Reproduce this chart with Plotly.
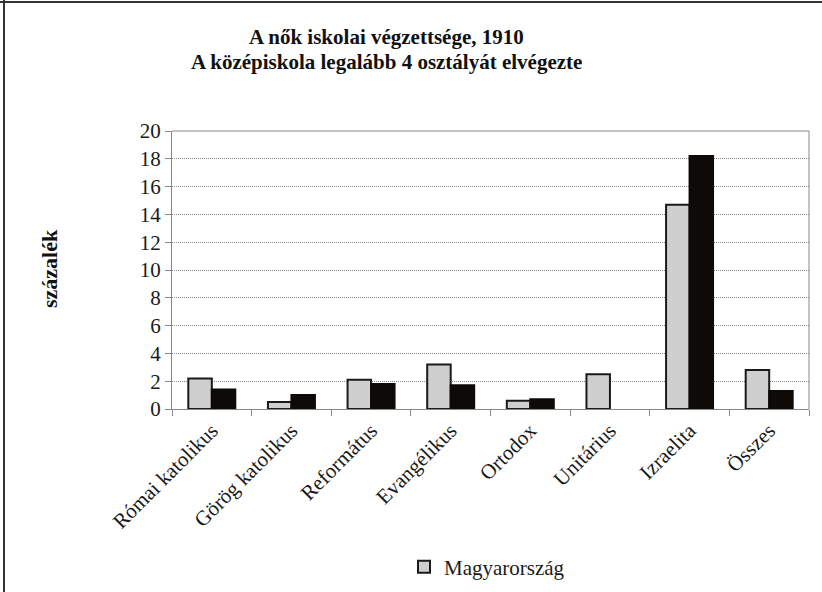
import plotly.graph_objects as go

categories = ["Római katolikus", "Görög katolikus", "Református", "Evangélikus",
              "Ortodox", "Unitárius", "Izraelita", "Összes"]
magyarorszag = [2.2, 0.5, 2.1, 3.2, 0.6, 2.5, 14.7, 2.8]
masik = [1.4, 1.0, 1.8, 1.7, 0.7, None, 18.2, 1.3]
y_ticks = [0, 2, 4, 6, 8, 10, 12, 14, 16, 18, 20]
title_lines = ["A nők iskolai végzettsége, 1910",
               "A középiskola legalább 4 osztályát elvégezte"]

FONT = "Liberation Serif"
W, H = 822, 592
ML, MR, MT, MB = 172, 13, 131, 183
pw = W - ML - MR
ph = H - MT - MB


def py(ypix):
    return (MT + ph - ypix) / ph


def px(xpix):
    return (xpix - ML) / pw


fig = go.Figure()
fig.add_trace(go.Bar(x=categories, y=magyarorszag, name="Magyarország",
                     marker=dict(color="#cfcfcf", line=dict(color="#1a1a1a", width=2))))
fig.add_trace(go.Bar(x=categories, y=masik, name="", showlegend=False,
                     marker=dict(color="#0d0a07", line=dict(color="#0d0a07", width=2))))

annotations = [
    dict(text="<b>%s</b>" % title_lines[0], x=px(386), y=py(37), xref="paper", yref="paper",
         xanchor="center", yanchor="middle", showarrow=False,
         font=dict(family=FONT, size=21, color="#111")),
    dict(text="<b>%s</b>" % title_lines[1], x=px(386), y=py(62), xref="paper", yref="paper",
         xanchor="center", yanchor="middle", showarrow=False,
         font=dict(family=FONT, size=21, color="#111")),
    dict(text="<b>százalék</b>", textangle=-90, x=px(49), xref="paper",
         xanchor="center", y=py(269), yref="paper", showarrow=False,
         font=dict(family=FONT, size=22, color="#111")),
]

fig.update_layout(
    width=W, height=H,
    margin=dict(l=ML, r=MR, t=MT, b=MB, autoexpand=False),
    paper_bgcolor="white", plot_bgcolor="white",
    font=dict(family=FONT, size=21, color="#1a1a1a"),
    barmode="group", bargap=0.41, bargroupgap=0,
    showlegend=True,
    legend=dict(orientation="h", x=px(487), xanchor="center", y=py(567),
                yanchor="middle", font=dict(family=FONT, size=21), bgcolor="rgba(0,0,0,0)"),
    xaxis=dict(tickangle=-45, showline=True, linecolor="#888", linewidth=1,
               ticks="outside", ticklen=6, tickcolor="#888", mirror=False,
               tickson="boundaries", showgrid=False, automargin=False),
    yaxis=dict(range=[0, 20], tickvals=y_ticks, showline=True, linecolor="#888", linewidth=1,
               ticks="outside", ticklen=6, tickcolor="#888",
               showgrid=True, gridcolor="#888", griddash="1px,1px", gridwidth=1,
               zeroline=False, automargin=False),
    annotations=annotations,
    shapes=[
        dict(type="line", xref="paper", yref="paper", x0=0, x1=1, y0=1, y1=1,
             line=dict(color="#888", width=1)),
        dict(type="line", xref="paper", yref="paper", x0=1, x1=1, y0=0, y1=1,
             line=dict(color="#888", width=1)),
        dict(type="line", xref="paper", yref="paper",
             x0=px(0), x1=px(W), y0=py(2), y1=py(2),
             line=dict(color="#333", width=2)),
        dict(type="line", xref="paper", yref="paper",
             x0=px(4), x1=px(4), y0=py(H), y1=py(0),
             line=dict(color="#333", width=2)),
    ],
)

fig.write_html("out.html", config={"displayModeBar": False},
               post_script="document.body.style.margin='0';document.body.style.overflow='hidden';")
